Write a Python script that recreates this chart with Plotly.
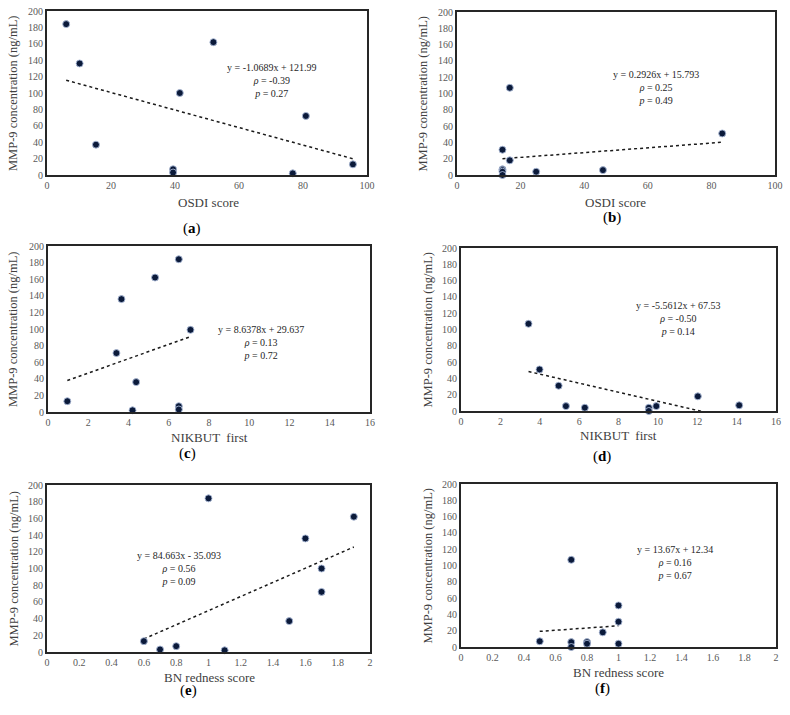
import plotly.graph_objects as go

# ---------------- data ----------------
# Group 1 (panels a, c, e)
a_x = [6.0, 10.2, 15.3, 39.4, 39.4, 41.5, 52.0, 76.8, 80.9, 95.6]
a_y = [184, 136, 37, 7, 3, 100, 162, 2, 72, 13]
c_x = [0.96, 3.4, 3.65, 4.2, 4.38, 5.32, 6.5, 6.5, 6.5, 7.08]
c_y = [13, 71, 136, 2, 36, 162, 184, 7, 3, 99]
e_x = [0.6, 0.7, 0.8, 1.0, 1.1, 1.5, 1.6, 1.7, 1.7, 1.9]
e_y = [13, 3, 7, 184, 2, 37, 136, 100, 72, 162]
# Group 2 (panels b, d, f)
b_x = [16.6, 14.3, 16.6, 14.3, 14.3, 14.3, 14.3, 24.9, 45.9, 83.4]
b_y = [107, 31, 18, 7, 6, 4, 0, 4, 6, 51]
d_x = [3.43, 3.99, 4.96, 5.33, 6.29, 9.54, 9.54, 9.92, 12.03, 14.13]
d_y = [107, 51, 31, 6, 4, 4, 0, 6, 18, 7]
f_x = [0.5, 0.7, 0.7, 0.7, 0.8, 0.8, 0.9, 1.0, 1.0, 1.0]
f_y = [7, 107, 6, 0, 6, 4, 18, 51, 31, 4]

slopes = [-1.0689, 0.2926, 8.6378, -5.5612, 84.663, 13.67]
intercepts = [121.99, 15.793, 29.637, 67.53, -35.093, 12.34]
equations = ["y = -1.0689x + 121.99", "y = 0.2926x + 15.793", "y = 8.6378x + 29.637",
             "y = -5.5612x + 67.53", "y = 84.663x - 35.093", "y = 13.67x + 12.34"]
rhos = ["-0.39", "0.25", "0.13", "-0.50", "0.56", "0.16"]
pvals = ["0.27", "0.49", "0.72", "0.14", "0.09", "0.67"]
x_titles = ["OSDI score", "OSDI score", "NIKBUT  first", "NIKBUT  first",
            "BN redness score", "BN redness score"]
panel_letters = ["a", "b", "c", "d", "e", "f"]
x_ranges = [[0, 100], [0, 100], [0, 16], [0, 16], [0, 2], [0, 2]]
x_dticks = [20, 20, 2, 2, 0.2, 0.2]
y_range = [0, 200]
y_dtick = 20
y_title = "MMP-9 concentration (ng/mL)"

xs = [a_x, b_x, c_x, d_x, e_x, f_x]
ys = [a_y, b_y, c_y, d_y, e_y, f_y]

# ---------------- layout (pixels in the 790x715 window) ----------------
W, H = 790, 715
# plot box: left, right, top, bottom (window px)
boxes = [(47, 367, 11, 175), (457, 775, 12, 175),
         (48, 370, 246, 412), (461, 776, 248, 411),
         (47, 370, 485, 652), (461, 776, 484, 647)]
# equation block centre in data coords
eq_pos = [(70.2, 115.4), (62.6, 107.2), (10.56, 84.3), (11.05, 113), (0.816, 100.4), (1.361, 103.5)]
xtitle_pos = [(208, 202), (615, 202), (209, 437), (618, 435), (209, 677), (618, 672)]
ytitle_x = [13, 423, 13, 427, 13, 427]
letter_pos = [(192, 228), (612, 217), (187, 453), (602, 456), (188, 690), (602, 688)]


def px(x):
    return x / W


def py(y):
    return 1 - y / H


SERIF = '"Liberation Serif", "Times New Roman", serif'
fig = go.Figure()
annotations = []
for i in range(6):
    ax = "" if i == 0 else str(i + 1)
    l, r, t, b = boxes[i]
    xd = [px(l), px(r)]
    yd = [py(b), py(t)]
    axis_common = dict(showgrid=False, zeroline=False, showline=True, mirror=True,
                       linecolor="#262626", linewidth=2, ticks="", automargin=False,
                       ticklabeloverflow="allow",
                       tickfont=dict(family=SERIF, size=10, color="#595959"))
    fig.update_layout(**{
        "xaxis" + ax: dict(domain=xd, range=x_ranges[i], dtick=x_dticks[i], tick0=0,
                           anchor="y" + ax, **axis_common),
        "yaxis" + ax: dict(domain=yd, range=y_range, dtick=y_dtick, tick0=0,
                           anchor="x" + ax, **axis_common),
    })
    # trendline from stated regression coefficients over the data range
    xmin, xmax = min(xs[i]), max(xs[i])
    fig.add_trace(go.Scatter(
        x=[xmin, xmax], y=[slopes[i] * xmin + intercepts[i], slopes[i] * xmax + intercepts[i]],
        mode="lines", line=dict(color="#1a1a1a", width=1.5, dash="dot"),
        xaxis="x" + ax, yaxis="y" + ax, showlegend=False, hoverinfo="skip"))
    fig.add_trace(go.Scatter(
        x=xs[i], y=ys[i], mode="markers",
        marker=dict(size=7, color="#0b1a3a", line=dict(color="rgba(170,185,215,0.9)", width=1)),
        xaxis="x" + ax, yaxis="y" + ax, showlegend=False, cliponaxis=False))
    # equation text
    ex, ey = eq_pos[i]
    annotations.append(dict(
        x=ex, y=ey, xref="x" + ax, yref="y" + ax, showarrow=False, align="center",
        xanchor="center", yanchor="middle",
        text=f"{equations[i]}<br><i>ρ</i> = {rhos[i]}<br><i>p</i> = {pvals[i]}",
        font=dict(family=SERIF, size=10, color="#262626")))
    # x title
    tx, ty = xtitle_pos[i]
    annotations.append(dict(x=px(tx), y=py(ty), xref="paper", yref="paper",
                            xanchor="center", yanchor="middle",
                            showarrow=False, text=x_titles[i],
                            font=dict(family=SERIF, size=13, color="#404040")))
    # y title
    annotations.append(dict(x=px(ytitle_x[i]), y=py((t + b) / 2), xref="paper", yref="paper",
                            xanchor="center", yanchor="middle",
                            showarrow=False, text=y_title, textangle=-90,
                            font=dict(family=SERIF, size=12.5, color="#404040")))
    # panel letter
    lx, ly = letter_pos[i]
    annotations.append(dict(x=px(lx), y=py(ly), xref="paper", yref="paper",
                            xanchor="center", yanchor="middle",
                            showarrow=False, text=f"(<b>{panel_letters[i]}</b>)",
                            font=dict(family=SERIF, size=15, color="#000000")))

fig.update_layout(template="none", width=W, height=H,
                  margin=dict(l=0, r=0, t=0, b=0, pad=0, autoexpand=False),
                  paper_bgcolor="white", plot_bgcolor="white",
                  annotations=annotations, showlegend=False)
fig.write_html("out.html", config={"displayModeBar": False},
               post_script="document.body.style.margin='0';document.body.style.overflow='hidden';")
